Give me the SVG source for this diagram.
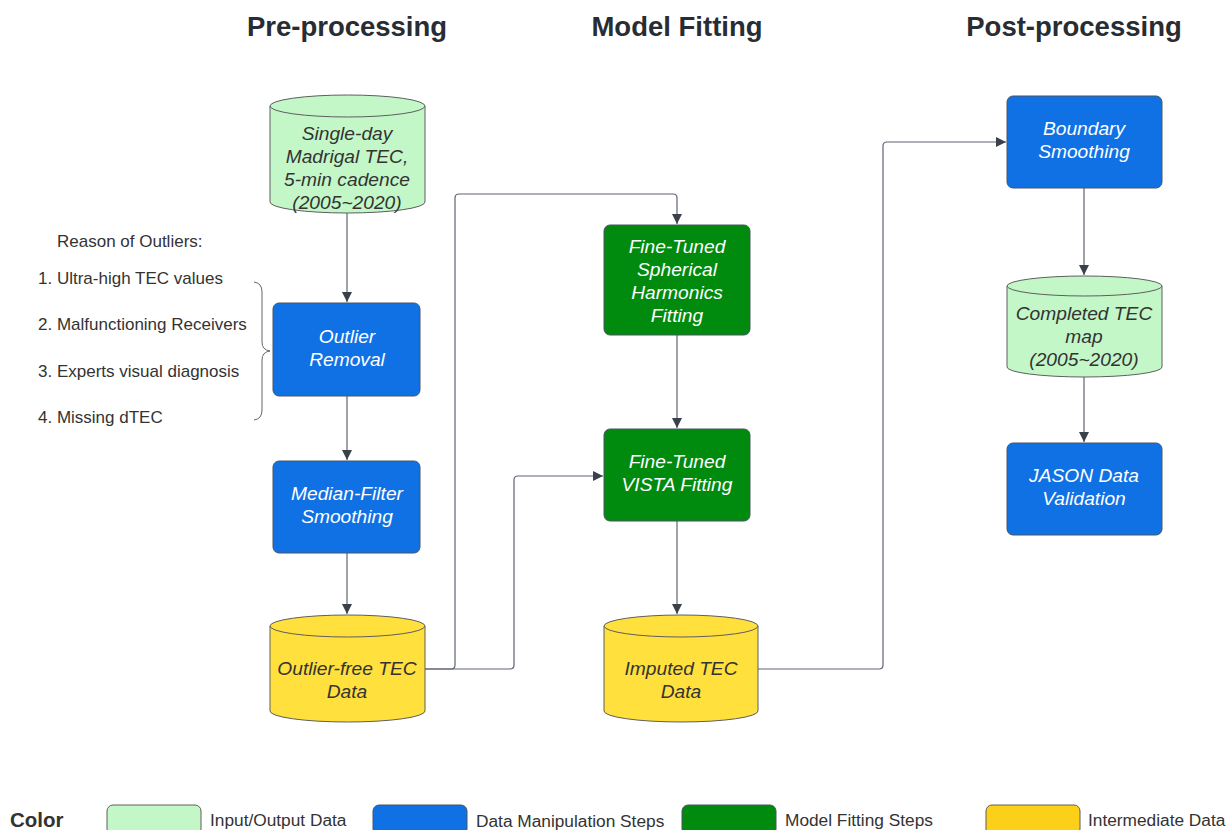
<svg xmlns="http://www.w3.org/2000/svg" width="1229" height="830" viewBox="0 0 1229 830">
<style>
.title{font-family:"Liberation Sans",Arial,sans-serif;font-weight:bold;font-size:27.5px;fill:#282c33;text-anchor:middle}
.nt{font-family:"Liberation Sans",Arial,sans-serif;font-style:italic;font-size:19.2px;text-anchor:middle;dominant-baseline:central}
.dark{fill:#333}
.light{fill:#fff}
.side{font-family:"Liberation Sans",Arial,sans-serif;font-size:17px;fill:#333;dominant-baseline:central}
.leg{font-family:"Liberation Sans",Arial,sans-serif;font-size:17.3px;fill:#333;dominant-baseline:central}
.blue{fill:#1071e5;stroke:#4a5563;stroke-width:1}
.green{fill:#008a0e;stroke:#4a5563;stroke-width:1}
.io{fill:#c3f7c8;stroke:#5e5e5e;stroke-width:1}
.mid{fill:#ffe03d;stroke:#5e5e5e;stroke-width:1}
.conn{fill:none;stroke:#5f6570;stroke-width:1.2}
</style>
<defs>
<marker id="arr" viewBox="0 0 10 10" refX="10" refY="5" markerWidth="10" markerHeight="10" markerUnits="userSpaceOnUse" orient="auto">
<path d="M0,0 L10,5 L0,10 z" fill="#3a414a"/>
</marker>
</defs>
<rect width="1229" height="830" fill="#fff"/>
<text class="title" x="347" y="36">Pre-processing</text>
<text class="title" x="677" y="36">Model Fitting</text>
<text class="title" x="1074" y="36">Post-processing</text>

<g id="connectors">
<path class="conn" d="M347,213 L347,302" marker-end="url(#arr)"/>
<path class="conn" d="M347,396 L347,460" marker-end="url(#arr)"/>
<path class="conn" d="M347,553 L347,614" marker-end="url(#arr)"/>
<path class="conn" d="M425,669 L451,669 Q455,669 455,665 L455,198 Q455,194 459,194 L673,194 Q677,194 677,198 L677,224" marker-end="url(#arr)"/>
<path class="conn" d="M425,669 L510,669 Q514,669 514,665 L514,480 Q514,476 518,476 L603,476" marker-end="url(#arr)"/>
<path class="conn" d="M677,335 L677,428" marker-end="url(#arr)"/>
<path class="conn" d="M677,521 L677,614" marker-end="url(#arr)"/>
<path class="conn" d="M758,669 L879,669 Q883,669 883,665 L883,146 Q883,142 887,142 L1006,142" marker-end="url(#arr)"/>
<path class="conn" d="M1084,188 L1084,275" marker-end="url(#arr)"/>
<path class="conn" d="M1084,377 L1084,442" marker-end="url(#arr)"/>
</g>

<g id="n-input">
<path class="io" d="M270,106 L270,202 A77.5,11 0 0 0 425,202 L425,106 A77.5,11 0 0 0 270,106 Z"/>
<path class="io" d="M270,106 A77.5,11 0 0 0 425,106" fill="none"/>
<text class="nt dark" x="347" y="133">Single-day</text>
<text class="nt dark" x="347" y="156">Madrigal TEC,</text>
<text class="nt dark" x="347" y="179">5-min cadence</text>
<text class="nt dark" x="347" y="202">(2005~2020)</text>
</g>

<g id="n-outlier">
<rect class="blue" x="273" y="303" width="147" height="93" rx="6"/>
<text class="nt light" x="347" y="336">Outlier</text>
<text class="nt light" x="347" y="359">Removal</text>
</g>

<g id="n-median">
<rect class="blue" x="273" y="461" width="147" height="92" rx="6"/>
<text class="nt light" x="347" y="493">Median-Filter</text>
<text class="nt light" x="347" y="516">Smoothing</text>
</g>

<g id="n-outlierfree">
<path class="mid" d="M270,626 L270,711 A77.5,11 0 0 0 425,711 L425,626 A77.5,11 0 0 0 270,626 Z"/>
<path class="mid" d="M270,626 A77.5,11 0 0 0 425,626" fill="none"/>
<text class="nt dark" x="347" y="668">Outlier-free TEC</text>
<text class="nt dark" x="347" y="691">Data</text>
</g>

<g id="n-sh">
<rect class="green" x="604" y="225" width="146" height="110" rx="6"/>
<text class="nt light" x="677" y="246">Fine-Tuned</text>
<text class="nt light" x="677" y="269">Spherical</text>
<text class="nt light" x="677" y="292">Harmonics</text>
<text class="nt light" x="677" y="315">Fitting</text>
</g>

<g id="n-vista">
<rect class="green" x="604" y="429" width="146" height="92" rx="6"/>
<text class="nt light" x="677" y="461">Fine-Tuned</text>
<text class="nt light" x="677" y="484">VISTA Fitting</text>
</g>

<g id="n-imputed">
<path class="mid" d="M604,626 L604,711 A77,11 0 0 0 758,711 L758,626 A77,11 0 0 0 604,626 Z"/>
<path class="mid" d="M604,626 A77,11 0 0 0 758,626" fill="none"/>
<text class="nt dark" x="681" y="668">Imputed TEC</text>
<text class="nt dark" x="681" y="691">Data</text>
</g>

<g id="n-boundary">
<rect class="blue" x="1007" y="96" width="155" height="92" rx="6"/>
<text class="nt light" x="1084" y="128">Boundary</text>
<text class="nt light" x="1084" y="151">Smoothing</text>
</g>

<g id="n-completed">
<path class="io" d="M1007,286 L1007,367 A77.5,10 0 0 0 1162,367 L1162,286 A77.5,10 0 0 0 1007,286 Z"/>
<path class="io" d="M1007,286 A77.5,10 0 0 0 1162,286" fill="none"/>
<text class="nt dark" x="1084" y="313">Completed TEC</text>
<text class="nt dark" x="1084" y="336">map</text>
<text class="nt dark" x="1084" y="359">(2005~2020)</text>
</g>

<g id="n-jason">
<rect class="blue" x="1007" y="443" width="155" height="92" rx="6"/>
<text class="nt light" x="1084" y="475">JASON Data</text>
<text class="nt light" x="1084" y="498">Validation</text>
</g>

<g id="outlier-reasons">
<text class="side" x="57" y="241">Reason of Outliers:</text>
<text class="side" x="38" y="278">1. Ultra-high TEC values</text>
<text class="side" x="38" y="324">2. Malfunctioning Receivers</text>
<text class="side" x="38" y="371">3. Experts visual diagnosis</text>
<text class="side" x="38" y="417">4. Missing dTEC</text>
<path d="M254,282 Q262,283 262,292 L262,342 Q262,350 270,351 Q262,352 262,360 L262,410 Q262,419 254,420" fill="none" stroke="#666" stroke-width="1"/>
</g>

<g id="legend">
<text x="10" y="819" font-family="Liberation Sans,Arial,sans-serif" font-weight="bold" font-size="20.5" fill="#333" dominant-baseline="central">Color</text>
<rect x="107" y="805" width="94" height="30" rx="6" fill="#c3f7c8" stroke="#5e5e5e"/>
<text class="leg" x="210" y="820">Input/Output Data</text>
<rect x="373" y="805" width="94" height="30" rx="6" fill="#1071e5" stroke="#4a5563"/>
<text class="leg" x="476" y="821">Data Manipulation Steps</text>
<rect x="682" y="805" width="94" height="30" rx="6" fill="#008a0e" stroke="#4a5563"/>
<text class="leg" x="785" y="820">Model Fitting Steps</text>
<rect x="986" y="805" width="94" height="30" rx="6" fill="#fccf18" stroke="#5e5e5e"/>
<text class="leg" x="1088" y="820">Intermediate Data</text>
</g>
</svg>
